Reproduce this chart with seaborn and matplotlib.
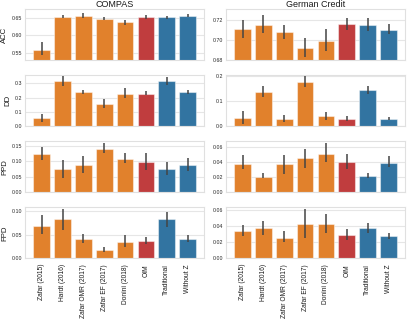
import numpy as np
import pandas as pd
import matplotlib
matplotlib.use("Agg")
import matplotlib.pyplot as plt
import seaborn as sns

methods = ["Zafar (2015)", "Hardt (2016)", "Zafar OMR (2017)", "Zafar EF (2017)",
           "Donini (2018)", "OIM", "Traditional", "Without Z"]
datasets = ["COMPAS", "German Credit"]
metrics = ["ACC", "DD", "PPD", "FPD"]

# COMPAS: mean, lower, upper
compas_acc = [0.559, 0.652, 0.656, 0.646, 0.637, 0.652, 0.651, 0.656]
compas_acc_lo = [0.543, 0.648, 0.649, 0.642, 0.630, 0.646, 0.646, 0.651]
compas_acc_hi = [0.580, 0.659, 0.662, 0.651, 0.643, 0.659, 0.656, 0.661]
compas_dd = [0.059, 0.314, 0.241, 0.153, 0.229, 0.227, 0.314, 0.241]
compas_dd_lo = [0.028, 0.284, 0.229, 0.125, 0.199, 0.222, 0.289, 0.229]
compas_dd_hi = [0.087, 0.350, 0.253, 0.189, 0.267, 0.245, 0.347, 0.253]
compas_ppd = [0.123, 0.074, 0.088, 0.140, 0.109, 0.0985, 0.074, 0.088]
compas_ppd_lo = [0.104, 0.045, 0.061, 0.128, 0.095, 0.071, 0.056, 0.070]
compas_ppd_hi = [0.147, 0.106, 0.118, 0.158, 0.128, 0.126, 0.0985, 0.110]
compas_fpd = [0.070, 0.083, 0.041, 0.017, 0.0356, 0.037, 0.083, 0.041]
compas_fpd_lo = [0.052, 0.061, 0.0335, 0.0129, 0.025, 0.0307, 0.0665, 0.0356]
compas_fpd_hi = [0.092, 0.106, 0.052, 0.0236, 0.049, 0.045, 0.0994, 0.049]

# German Credit: mean, lower, upper
german_acc = [0.7108, 0.7148, 0.7078, 0.6924, 0.6993, 0.7158, 0.7148, 0.7101]
german_acc_lo = [0.702, 0.7075, 0.7016, 0.6833, 0.6895, 0.7105, 0.7092, 0.7059]
german_acc_hi = [0.720, 0.725, 0.7148, 0.7026, 0.7114, 0.7217, 0.7217, 0.7164]
german_dd = [0.034, 0.138, 0.029, 0.177, 0.040, 0.030, 0.144, 0.031]
german_dd_lo = [0.010, 0.118, 0.016, 0.158, 0.026, 0.022, 0.129, 0.025]
german_dd_hi = [0.061, 0.161, 0.044, 0.200, 0.057, 0.041, 0.161, 0.039]
german_ppd = [0.0383, 0.0211, 0.038, 0.0455, 0.0512, 0.0402, 0.0221, 0.0397]
german_ppd_lo = [0.0317, 0.0185, 0.0243, 0.033, 0.0406, 0.0313, 0.0198, 0.034]
german_ppd_hi = [0.0498, 0.026, 0.0498, 0.0578, 0.0653, 0.0508, 0.0256, 0.048]
german_fpd = [0.0341, 0.0379, 0.026, 0.0429, 0.0425, 0.0291, 0.0379, 0.0279]
german_fpd_lo = [0.0283, 0.0295, 0.0204, 0.025, 0.0313, 0.0233, 0.032, 0.0245]
german_fpd_hi = [0.042, 0.047, 0.0338, 0.0616, 0.0554, 0.0363, 0.0441, 0.032]

values = {
    ("COMPAS", "ACC"): (compas_acc, compas_acc_lo, compas_acc_hi),
    ("COMPAS", "DD"): (compas_dd, compas_dd_lo, compas_dd_hi),
    ("COMPAS", "PPD"): (compas_ppd, compas_ppd_lo, compas_ppd_hi),
    ("COMPAS", "FPD"): (compas_fpd, compas_fpd_lo, compas_fpd_hi),
    ("German Credit", "ACC"): (german_acc, german_acc_lo, german_acc_hi),
    ("German Credit", "DD"): (german_dd, german_dd_lo, german_dd_hi),
    ("German Credit", "PPD"): (german_ppd, german_ppd_lo, german_ppd_hi),
    ("German Credit", "FPD"): (german_fpd, german_fpd_lo, german_fpd_hi),
}

palette = ["tab:orange"] * 5 + ["tab:red", "tab:blue", "tab:blue"]

ylims = {
    ("COMPAS", "ACC"): (0.528, 0.674),
    ("COMPAS", "DD"): (0, 0.357),
    ("COMPAS", "PPD"): (0, 0.165),
    ("COMPAS", "FPD"): (0, 0.109),
    ("German Credit", "ACC"): (0.68, 0.7305),
    ("German Credit", "DD"): (0, 0.205),
    ("German Credit", "PPD"): (0, 0.068),
    ("German Credit", "FPD"): (0, 0.0638),
}
yticks = {
    ("COMPAS", "ACC"): [0.55, 0.60, 0.65],
    ("COMPAS", "DD"): [0.0, 0.1, 0.2, 0.3],
    ("COMPAS", "PPD"): [0.00, 0.05, 0.10, 0.15],
    ("COMPAS", "FPD"): [0.00, 0.05, 0.10],
    ("German Credit", "ACC"): [0.68, 0.70, 0.72],
    ("German Credit", "DD"): [0.0, 0.1, 0.2],
    ("German Credit", "PPD"): [0.00, 0.02, 0.04, 0.06],
    ("German Credit", "FPD"): [0.00, 0.02, 0.04, 0.06],
}
yfmt = {
    ("COMPAS", "ACC"): "{:.2f}", ("COMPAS", "DD"): "{:.1f}",
    ("COMPAS", "PPD"): "{:.2f}", ("COMPAS", "FPD"): "{:.2f}",
    ("German Credit", "ACC"): "{:.2f}", ("German Credit", "DD"): "{:.1f}",
    ("German Credit", "PPD"): "{:.2f}", ("German Credit", "FPD"): "{:.2f}",
}

sns.set_theme(style="whitegrid", rc={
    "grid.color": "#e6e6e6", "axes.edgecolor": "#e0e0e0", "grid.linewidth": 0.8,
    "axes.linewidth": 0.8,
})
plt.rcParams["font.family"] = ["Liberation Sans", "DejaVu Sans"]

fig, axes = plt.subplots(4, 2, figsize=(4.07, 3.19), dpi=100, sharex=True)
fig.subplots_adjust(left=0.062, right=0.995, top=0.971, bottom=0.19,
                    wspace=0.124, hspace=0.29)

for c, ds in enumerate(datasets):
    for r, m in enumerate(metrics):
        ax = axes[r, c]
        mean, lo, hi = values[(ds, m)]
        df = pd.DataFrame({"method": methods, "value": mean})
        sns.barplot(data=df, x="method", y="value", hue="method", palette=palette,
                    legend=False, ax=ax, errorbar=None, width=0.8,
                    edgecolor=(1, 1, 1, 0.45), linewidth=0.8)
        xpos = np.arange(len(methods))
        ax.vlines(xpos, lo, hi, color="#444444", linewidth=1.1, zorder=5)
        ax.set_ylim(*ylims[(ds, m)])
        ticks = yticks[(ds, m)]
        ax.set_yticks(ticks)
        ax.set_yticklabels([yfmt[(ds, m)].format(t) for t in ticks])
        ax.tick_params(axis="y", labelsize=3.8, pad=2, length=0, colors="#262626")
        ax.tick_params(axis="x", labelsize=4.8, pad=4, length=0, rotation=90,
                       colors="#1a1a1a")
        ax.set_xlabel("")
        if c == 0:
            ax.set_ylabel(m, fontsize=5.6, labelpad=2.5, color="#1a1a1a")
        else:
            ax.set_ylabel("")
        if r == 0:
            ax.set_title(ds, fontsize=6.5, pad=1.5, color="#1a1a1a")
        ax.xaxis.grid(False)

fig.savefig("out.png", dpi=100)
